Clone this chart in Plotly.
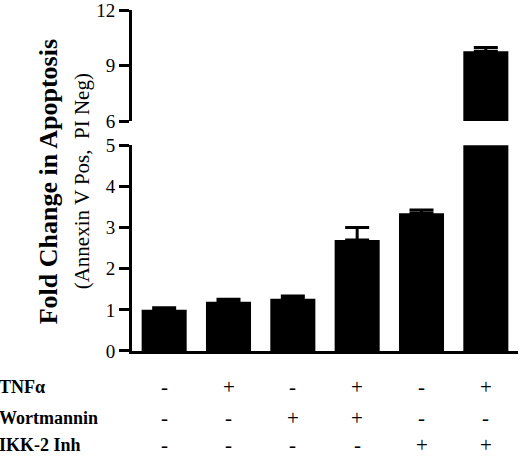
import plotly.graph_objects as go

# treatment groups (TNFa / Wortmannin / IKK-2 Inh)
groups = ["ctrl", "TNF", "Wort", "TNF+Wort", "IKK", "TNF+IKK"]
fold_change = [1.0, 1.2, 1.27, 2.7, 3.35, 9.77]
sem = [0.05, 0.06, 0.07, 0.3, 0.08, 0.2]

row_labels = ["TNF\u03b1", "Wortmannin", "IKK-2 Inh"]
tnf = ["-", "+", "-", "+", "-", "+"]
wort = ["-", "-", "+", "+", "-", "-"]
ikk = ["-", "-", "-", "-", "+", "+"]

lower_ticks = [0, 1, 2, 3, 4, 5]
upper_ticks = [6, 9, 12]

serif = "Liberation Serif"
x = list(range(len(groups)))

fig = go.Figure()

# lower panel: bars clipped at 5
fig.add_trace(go.Bar(
    x=x, y=fold_change, width=0.7,
    marker=dict(color="black", line=dict(width=0)),
    error_y=dict(type="data", array=sem, arrayminus=[0] * len(sem),
                 color="black", thickness=3, width=12),
    xaxis="x", yaxis="y", cliponaxis=True, showlegend=False,
))
# upper panel: same bars, visible part from 6 up
fig.add_trace(go.Bar(
    x=x, y=fold_change, width=0.7,
    marker=dict(color="black", line=dict(width=0)),
    error_y=dict(type="data", array=sem, arrayminus=[0] * len(sem),
                 color="black", thickness=3, width=12),
    xaxis="x2", yaxis="y2", cliponaxis=True, showlegend=False,
))

axis_common = dict(
    showgrid=False, zeroline=False, showline=True, linecolor="black",
    linewidth=3, ticks="outside", ticklen=10, tickwidth=2.5,
    tickcolor="black", automargin=False, ticklabeloverflow="allow",
    tickfont=dict(family=serif, size=19, color="black"),
)

fig.update_layout(
    template="none",
    width=520, height=457,
    margin=dict(l=132, r=2, t=10, b=106, autoexpand=False),
    paper_bgcolor="white", plot_bgcolor="white",
    bargap=0.3,
    xaxis=dict(range=[-0.5, 5.5], showticklabels=False, showgrid=False,
               zeroline=False, showline=True, linecolor="black", linewidth=3,
               ticks="", anchor="y", automargin=False),
    xaxis2=dict(range=[-0.5, 5.5], visible=False, anchor="y2", matches="x"),
    yaxis=dict(domain=[0, 0.6032], range=[0, 5], tickvals=lower_ticks,
               anchor="x", **axis_common),
    yaxis2=dict(domain=[0.6745, 1], range=[6, 12], tickvals=upper_ticks,
                anchor="x2", **axis_common),
)

# axis titles
fig.add_annotation(
    text="<b>Fold Change in Apoptosis</b>", xref="paper", yref="paper",
    x=(48 - 132) / 386, y=(350.7 - 182) / 341, textangle=-90,
    xanchor="center", yanchor="middle",
    showarrow=False, font=dict(family=serif, size=26, color="black"),
)
fig.add_annotation(
    text="(Annexin V Pos,  PI Neg)", xref="paper", yref="paper",
    x=(82 - 132) / 386, y=(350.7 - 181) / 341, textangle=-90,
    xanchor="center", yanchor="middle",
    showarrow=False, font=dict(family=serif, size=21, color="black"),
)

# treatment table under the bars
row_y = [387, 418, 445]
for label, marks, py in zip(row_labels, [tnf, wort, ikk], row_y):
    yp = (350.7 - py) / 341
    fig.add_annotation(
        text="<b>" + label + "</b>", xref="paper", yref="paper",
        x=-134 / 386, y=yp, xanchor="left", yanchor="middle", borderpad=0,
        showarrow=False, font=dict(family=serif, size=18, color="black"),
    )
    for xi, m in zip(x, marks):
        fig.add_annotation(
            text=m, xref="x", yref="paper", x=xi, y=yp, showarrow=False,
            xanchor="center", yanchor="middle", borderpad=0,
            font=dict(family=serif, size=21, color="black"),
        )

# page body has a default 8px margin; drop it so the figure sits at 0,0
fig.write_html("out.html", config={"displayModeBar": False},
               post_script="document.body.style.margin='0';")
